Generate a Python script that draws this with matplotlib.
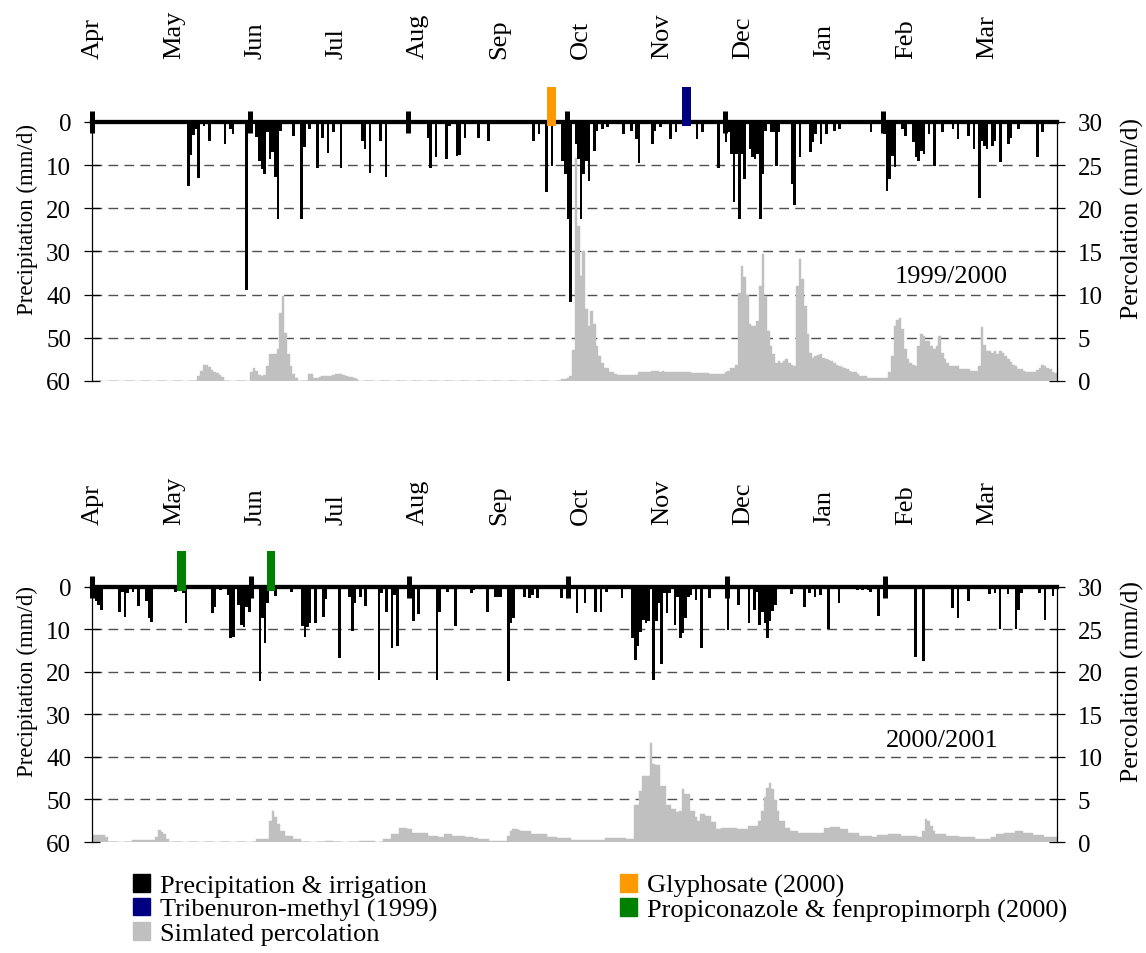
import numpy as np
import matplotlib
matplotlib.use("Agg")
import matplotlib.pyplot as plt
from matplotlib.patches import Patch

plt.rcParams['font.family'] = 'serif'
plt.rcParams['font.serif'] = ['Liberation Serif', 'DejaVu Serif']

months = ["Apr", "May", "Jun", "Jul", "Aug", "Sep", "Oct", "Nov", "Dec", "Jan", "Feb", "Mar"]

# ---- 1999/2000 (day 0 = 1 April 1999) ----
rain_days_99 = [36, 37, 38, 39, 40, 42, 44, 50, 52, 53, 58, 62, 63, 64, 65, 66, 67, 68, 69, 70,
                71, 76, 79, 80, 82, 85, 87, 89, 91, 94, 102, 103, 105, 109, 111, 119, 127, 128, 130, 134,
                135, 138, 139, 141, 146, 150, 167, 169, 172, 174, 178, 179, 180, 181, 183, 184, 185, 186, 187, 188,
                190, 191, 193, 195, 201, 204, 206, 207, 212, 213, 215, 219, 221, 229, 231, 237, 240, 241, 242, 243,
                244, 245, 246, 247, 249, 250, 251, 252, 253, 254, 255, 257, 258, 259, 260, 265, 266, 268, 272, 273,
                274, 276, 278, 281, 283, 295, 300, 301, 302, 303, 304, 307, 308, 311, 312, 313, 314, 315, 317, 319,
                322, 326, 328, 332, 334, 336, 337, 338, 339, 341, 342, 344, 347, 348, 351, 358, 360]
rain_mm_99 = [14.9, 7.7, 3.0, 1.6, 13.0, 1.0, 4.5, 5.1, 1.6, 2.8, 39.0, 3.5, 9.0, 11.0, 12.0, 2.4, 8.6, 7.0, 12.8, 22.4,
              2.0, 3.2, 22.4, 5.9, 1.6, 10.7, 3.6, 7.2, 2.4, 10.7, 4.3, 6.3, 11.9, 4.3, 12.7, 0.9, 3.6, 10.7, 8.2, 8.6,
              0.9, 7.8, 7.6, 3.6, 3.6, 4.3, 4.3, 2.8, 16.3, 10.1, 9.0, 12.0, 22.5, 41.7, 5.1, 8.6, 22.4, 12.0, 9.0, 13.6,
              6.7, 2.0, 1.6, 1.2, 2.8, 2.0, 3.9, 9.4, 5.1, 2.0, 1.2, 3.9, 2.4, 3.9, 2.4, 10.7, 4.7, 2.4, 7.4, 18.6,
              7.4, 22.4, 7.4, 13.2, 6.3, 8.2, 8.6, 7.4, 22.4, 12.0, 2.0, 2.4, 2.4, 10.1, 2.4, 14.4, 19.3, 8.2, 7.0, 4.7,
              2.8, 5.1, 2.8, 2.0, 1.6, 2.4, 2.8, 15.9, 13.2, 7.8, 10.5, 1.6, 3.2, 4.7, 8.2, 9.0, 6.7, 7.4, 2.8, 10.3,
              2.4, 1.6, 3.9, 3.2, 6.3, 17.7, 4.3, 5.5, 6.3, 5.5, 4.3, 9.2, 5.1, 3.6, 1.6, 8.2, 2.4]
perc_99 = [0, 0, 0, 0, 0, 0, 0, 0, 0, 0, 0, 0, 0, 0, 0, 0, 0, 0, 0, 0,
           0, 0, 0, 0, 0, 0, 0, 0, 0, 0, 0, 0, 0, 0, 0, 0, 0, 0, 0, 0,
           0.6, 1.2, 1.9, 1.9, 1.6, 1.3, 1.1, 0.9, 0.7, 0.5,
           0, 0, 0, 0, 0, 0, 0, 0, 0, 0,
           1.0, 1.5, 1.2, 0.7, 0.6, 0.7, 1.7, 3.1, 3.1, 3.1, 3.7, 7.9, 9.8, 5.6, 3.1, 1.7, 0.8, 0.4,
           0, 0, 0, 0,
           0.8, 0.8, 0.4, 0.4, 0.5, 0.6, 0.6, 0.6, 0.6, 0.7, 0.8, 0.8, 0.8, 0.7, 0.6, 0.5, 0.5, 0.3, 0.2,
           0, 0, 0, 0, 0, 0, 0, 0, 0, 0, 0, 0, 0, 0, 0, 0, 0, 0, 0, 0,
           0, 0, 0, 0, 0, 0, 0, 0, 0, 0, 0, 0, 0, 0, 0, 0, 0, 0, 0, 0,
           0, 0, 0, 0, 0, 0, 0, 0, 0, 0, 0, 0, 0, 0, 0, 0, 0, 0, 0, 0,
           0, 0, 0, 0, 0, 0, 0, 0, 0, 0, 0, 0, 0, 0, 0, 0, 0,
           0.2, 0.2, 0.3,
           0.6, 3.6, 25.8, 18.0, 12.2, 15.1, 8.3, 6.4, 8.1, 6.6, 4.1, 2.9, 2.1, 1.5, 1.5, 1.0, 1.0, 0.8,
           0.7, 0.7, 0.7, 0.7, 0.7, 0.7, 0.7, 0.7,
           1.0, 1.0, 1.0, 1.0,
           1.1, 1.2, 1.2, 1.2, 1.1, 1.2, 1.1, 1.1,
           1.0, 1.0, 1.0, 1.0, 1.0, 1.0, 1.0, 1.0,
           0.9, 0.9, 0.9, 0.9, 0.9, 0.9, 0.9,
           0.8, 0.8, 0.8, 0.8, 0.8, 0.8,
           1.1, 1.2, 1.5, 1.5, 1.9,
           10.2, 13.3, 12.0, 10.0, 6.6, 6.4, 6.4, 7.0, 11.0, 14.7, 9.8, 5.8, 4.1, 3.1, 2.1, 2.3, 2.1, 2.3, 2.5, 2.1, 1.9, 1.7,
           11.0, 14.1, 11.8, 8.7, 5.4, 3.3, 2.7, 2.9, 3.0, 3.1, 2.7, 2.5, 2.4, 2.3, 2.1, 1.9, 1.7, 1.6, 1.5, 1.35, 1.15, 1.0, 1.0, 0.8,
           0.6, 0.6, 0.6, 0.4, 0.4, 0.4, 0.4, 0.3, 0.3, 0.3, 0.3,
           1.0, 2.9, 6.4, 7.1, 7.3, 6.0, 3.7, 2.5, 2.1, 1.9, 1.7,
           4.1, 5.4, 5.2, 4.6, 4.6, 4.1, 3.7, 4.1, 5.2, 3.3, 2.5, 2.1, 1.7, 1.7, 1.7, 1.7, 1.35, 1.35, 1.35, 1.35, 1.15, 1.15, 1.15,
           1.7, 6.2, 4.2, 3.5, 3.5, 3.3, 3.5, 3.1, 3.5, 3.3, 2.9, 2.5, 2.2, 1.9, 1.7, 1.4, 1.35, 1.15, 1.0, 1.0,
           1.0, 1.0, 1.3, 1.5, 1.8, 1.7, 1.5, 1.35, 1.0, 0.9]
glyphosate_days_99 = [174.3]
tribenuron_days_99 = [225.4]

# ---- 2000/2001 (day 0 = 1 April 2000) ----
rain_days_00 = [1, 2, 3, 10, 11, 12, 13, 15, 17, 20, 21, 22, 31, 34, 35, 45, 46, 48, 51, 52,
                53, 55, 56, 57, 58, 59, 63, 64, 65, 66, 69, 75, 79, 80, 81, 82, 84, 87, 88, 93,
                97, 98, 99, 101, 103, 108, 109, 111, 113, 114, 115, 120, 121, 123, 130, 131, 134, 137, 143, 144,
                149, 152, 153, 154, 157, 158, 159, 163, 165, 166, 168, 177, 180, 183, 186, 190, 192, 194, 200, 204,
                205, 206, 207, 208, 209, 210, 212, 213, 214, 215, 216, 217, 218, 220, 221, 222, 223, 224, 225, 226,
                228, 230, 233, 240, 244, 248, 250, 251, 252, 253, 254, 255, 256, 257, 258, 264, 269, 271, 273, 275,
                278, 282, 289, 291, 293, 294, 297, 300, 311, 314, 325, 327, 331, 339, 341, 343, 346, 349, 350, 351,
                358, 360, 363]
rain_mm_00 = [3.2, 4.2, 5.4, 5.8, 1.1, 7.0, 1.5, 1.1, 4.4, 3.4, 7.4, 8.3, 1.1, 1.5, 8.5, 6.2, 4.6, 0.7, 1.9, 12.0,
              11.7, 4.2, 8.9, 9.3, 4.6, 5.8, 22.2, 7.4, 13.2, 3.8, 2.1, 1.1, 9.2, 11.7, 9.3, 8.5, 8.4, 7.0, 2.9, 16.6,
              2.3, 10.3, 3.8, 2.3, 4.5, 22.0, 1.5, 5.8, 14.4, 1.9, 13.9, 2.7, 8.1, 6.3, 22.0, 5.8, 1.1, 9.2, 1.3, 0.7,
              5.8, 2.3, 2.3, 2.3, 22.2, 8.5, 7.4, 2.3, 2.7, 1.9, 2.7, 2.7, 2.5, 6.2, 3.8, 5.9, 5.8, 1.1, 2.7, 12.0,
              17.1, 14.0, 10.5, 7.7, 8.5, 8.1, 22.0, 8.1, 3.8, 18.2, 1.5, 6.2, 1.5, 8.9, 2.3, 12.0, 10.9, 7.4, 2.3, 1.9,
              3.1, 14.4, 2.7, 10.1, 4.2, 8.5, 5.4, 1.1, 8.9, 5.8, 8.5, 12.0, 7.9, 5.6, 4.2, 1.6, 4.6, 1.5, 2.3, 1.9,
              9.9, 3.7, 0.7, 0.7, 0.7, 1.1, 6.8, 2.5, 16.5, 17.3, 5.0, 7.4, 3.2, 1.6, 1.5, 9.9, 1.6, 9.9, 5.4, 1.3,
              1.5, 7.7, 2.1]
perc_00 = [0.8, 0.8, 0.8, 0.8, 0.8, 0.6,
           0, 0, 0, 0, 0, 0, 0, 0, 0,
           0.25, 0.25, 0.25, 0.25, 0.25, 0.25, 0.25, 0.25, 0.25,
           0.6, 1.4, 1.2, 0.9, 0.35,
           0, 0, 0, 0, 0, 0, 0, 0, 0, 0, 0, 0, 0, 0, 0, 0, 0, 0, 0, 0,
           0, 0, 0, 0, 0, 0, 0, 0, 0, 0, 0, 0, 0,
           0.35, 0.35, 0.35, 0.35, 0.35,
           2.5, 3.7, 2.9, 2.1, 1.3, 1.3, 0.75, 0.75, 0.75, 0.35, 0.35, 0.35,
           0, 0, 0, 0, 0, 0, 0, 0, 0,
           0.15, 0.15, 0.15,
           0, 0, 0, 0, 0, 0, 0, 0, 0, 0,
           0.15, 0.15, 0.15, 0.15, 0.15, 0.15,
           0, 0, 0,
           0.35, 0.35, 0.35, 0.95, 0.95, 0.95, 1.7, 1.7, 1.7, 1.5, 1.5,
           1.1, 1.1, 1.1, 1.1, 1.1, 1.1, 0.75, 0.75, 0.75, 0.75, 0.55, 0.55, 0.95, 0.95, 0.95,
           0.75, 0.75, 0.75, 0.75, 0.75,
           0.55, 0.55, 0.55, 0.45, 0.45, 0.35, 0.35, 0.35, 0.35,
           0.15, 0.15, 0.15, 0.15, 0.15, 0.15, 0.15,
           0.75, 1.3, 1.5, 1.5, 1.4, 1.25, 1.25, 1.25, 1.25,
           0.95, 0.95, 0.95, 0.95, 0.95, 0.95, 0.6, 0.6, 0.6, 0.6,
           0.45, 0.45, 0.45, 0.45, 0.45,
           0.25, 0.25, 0.25, 0.25, 0.25, 0.25, 0.25, 0.25, 0.25, 0.25, 0.25, 0.25, 0.25,
           0.45, 0.45, 0.45, 0.45, 0.45, 0.45, 0.45, 0.45, 0.35, 0.35, 0.35,
           4.3, 4.3, 6.0, 7.8, 7.8, 7.8, 11.7, 9.2, 9.0, 9.0, 6.6, 6.6, 4.3, 4.3, 3.9, 3.9, 3.5, 3.7, 6.2, 5.6,
           5.6, 3.7, 3.7, 2.9, 2.5, 3.3, 3.3, 3.1, 3.1, 2.3, 2.3, 1.5, 1.5,
           1.7, 1.7, 1.7, 1.7, 1.7, 1.7, 1.5, 1.5, 1.5, 1.5, 1.9, 1.9, 1.9, 1.9,
           2.5, 3.7, 5.3, 6.4, 6.9, 6.2, 4.9, 3.7, 2.5, 2.5, 1.7, 1.7, 1.25, 1.25, 1.25,
           1.0, 1.0, 1.0, 1.0, 1.0, 1.0, 1.0, 1.0, 1.0, 1.0,
           1.6, 1.6, 1.8, 1.8, 1.8, 1.8, 1.5, 1.5, 1.5, 1.1, 1.1, 1.1, 1.1,
           0.75, 0.75, 0.75, 0.75, 0.75, 0.55, 0.55, 0.85, 0.85, 0.85, 0.85,
           0.95, 0.95, 0.95, 0.95, 0.95, 0.75, 0.75, 0.75, 0.75, 0.75, 0.75, 0.55, 0.55,
           1.3, 2.7, 2.5, 1.9, 1.3, 0.95, 0.95, 0.95, 0.95,
           0.75, 0.75, 0.75, 0.75, 0.75, 0.55, 0.55, 0.55, 0.55, 0.55, 0.55,
           0.35, 0.35, 0.35, 0.35, 0.35, 0.35, 0.55, 0.55, 0.95, 0.95, 0.95,
           1.1, 1.1, 1.1, 1.1, 1.25, 1.25, 1.25, 1.0, 1.0, 1.0, 1.0,
           0.85, 0.85, 0.85, 0.85, 0.6, 0.6, 0.6, 0.6, 0.6]
propiconazole_days_00 = [33.8, 67.8]

GREY = '#c0c0c0'
ORANGE = '#ff9900'
NAVY = '#000080'
GREEN = '#008000'

fig = plt.figure(figsize=(11.46, 9.54), dpi=100)


def draw_panel(rect, rain_days, rain_mm, perc, apps, year_text, year_xy, top_mm, month_y):
    ax = fig.add_axes(rect)
    ax2 = ax.twinx()
    ax.set_zorder(ax2.get_zorder() + 1)
    ax.patch.set_visible(False)

    n = len(perc)
    ndays = np.arange(n)

    # percolation on the right axis, with the dashed grid behind it
    ax2.bar(ndays + 0.5, perc, width=1.0, color=GREY, edgecolor=GREY, linewidth=0.3, zorder=2)
    ax2.set_ylim(0, 30 - top_mm / 2.0)
    ax2.set_yticks(range(0, 31, 5))
    ax2.set_axisbelow(True)
    ax2.yaxis.grid(True, linestyle=(0, (7, 4.5)), color='#505050', linewidth=1.0)
    for s in ['top', 'bottom', 'left']:
        ax2.spines[s].set_visible(False)
    ax2.spines['right'].set_bounds(0, 30)
    ax2.spines['right'].set_linewidth(0.9)
    ax2.tick_params(axis='y', direction='inout', length=11, width=0.9, labelsize=18, pad=9.5)
    ax2.set_ylabel('Percolation (mm/d)', fontsize=18.5, va='center')
    ax2.yaxis.set_label_coords(1.0777, 0.556)

    # precipitation hanging down from the zero line
    ax.bar(np.array(rain_days) + 0.5, rain_mm, width=1.0, color='black', linewidth=0, zorder=2)
    for days, col in apps:
        ax.bar(days, top_mm - 1.0, bottom=1.0, width=3.2, color=col, linewidth=0, zorder=4)

    ax.set_xlim(0, n)
    ax.set_ylim(60, top_mm)
    ax.set_yticks(range(0, 61, 10))
    ax.spines['left'].set_bounds(0, 60)
    ax.spines['left'].set_linewidth(0.9)
    ax.spines['top'].set_visible(False)
    ax.spines['right'].set_visible(False)
    ax.spines['bottom'].set_position(('data', 0))
    ax.spines['bottom'].set_linewidth(3.1)
    ax.set_xticks(range(0, 301, 60))
    ax.tick_params(axis='x', direction='inout', length=16, width=3.6, labelbottom=False)
    ax.tick_params(axis='y', direction='inout', length=11, width=0.9, labelsize=18, pad=9.5)
    ax.set_ylabel('Precipitation (mm/d)', fontsize=16.5, va='center')
    ax.yaxis.set_label_coords(-0.0668, 0.554)

    for k, m in enumerate(months):
        ax.text((1 + 81.3 * k) / 965.0, month_y, m, transform=ax.transAxes,
                rotation=90, ha='center', va='bottom', fontsize=19)

    ax.text(year_xy[0], year_xy[1], year_text, ha='center', va='center', fontsize=19)
    return ax


draw_panel([92 / 1146, 1 - 382 / 954, 965 / 1146, 294 / 954],
           rain_days_99, rain_mm_99, perc_99,
           [(glyphosate_days_99, ORANGE), (tribenuron_days_99, NAVY)],
           '1999/2000', (325.7, 35.7), -8.1, 1.0986)

draw_panel([92 / 1146, 1 - 843 / 954, 965 / 1146, 291 / 954],
           rain_days_00, rain_mm_00, perc_00,
           [(propiconazole_days_00, GREEN)],
           '2000/2001', (321.5, 36.0), -8.47, 1.093)

handles = [Patch(color='black'), Patch(color=NAVY), Patch(color=GREY),
           Patch(color=ORANGE), Patch(color=GREEN)]
labels = ['Precipitation & irrigation', 'Tribenuron-methyl (1999)', 'Simlated percolation',
          'Glyphosate (2000)', 'Propiconazole & fenpropimorph (2000)']
fig.legend(handles, labels, ncol=2, loc='upper left', bbox_to_anchor=(133 / 1146, 1 - 875 / 954),
           frameon=False, fontsize=19, handlelength=0.65, handleheight=0.65, handletextpad=0.38,
           labelspacing=0.03, columnspacing=6.9, borderpad=0, borderaxespad=0)

fig.savefig('out.png', dpi=100)
